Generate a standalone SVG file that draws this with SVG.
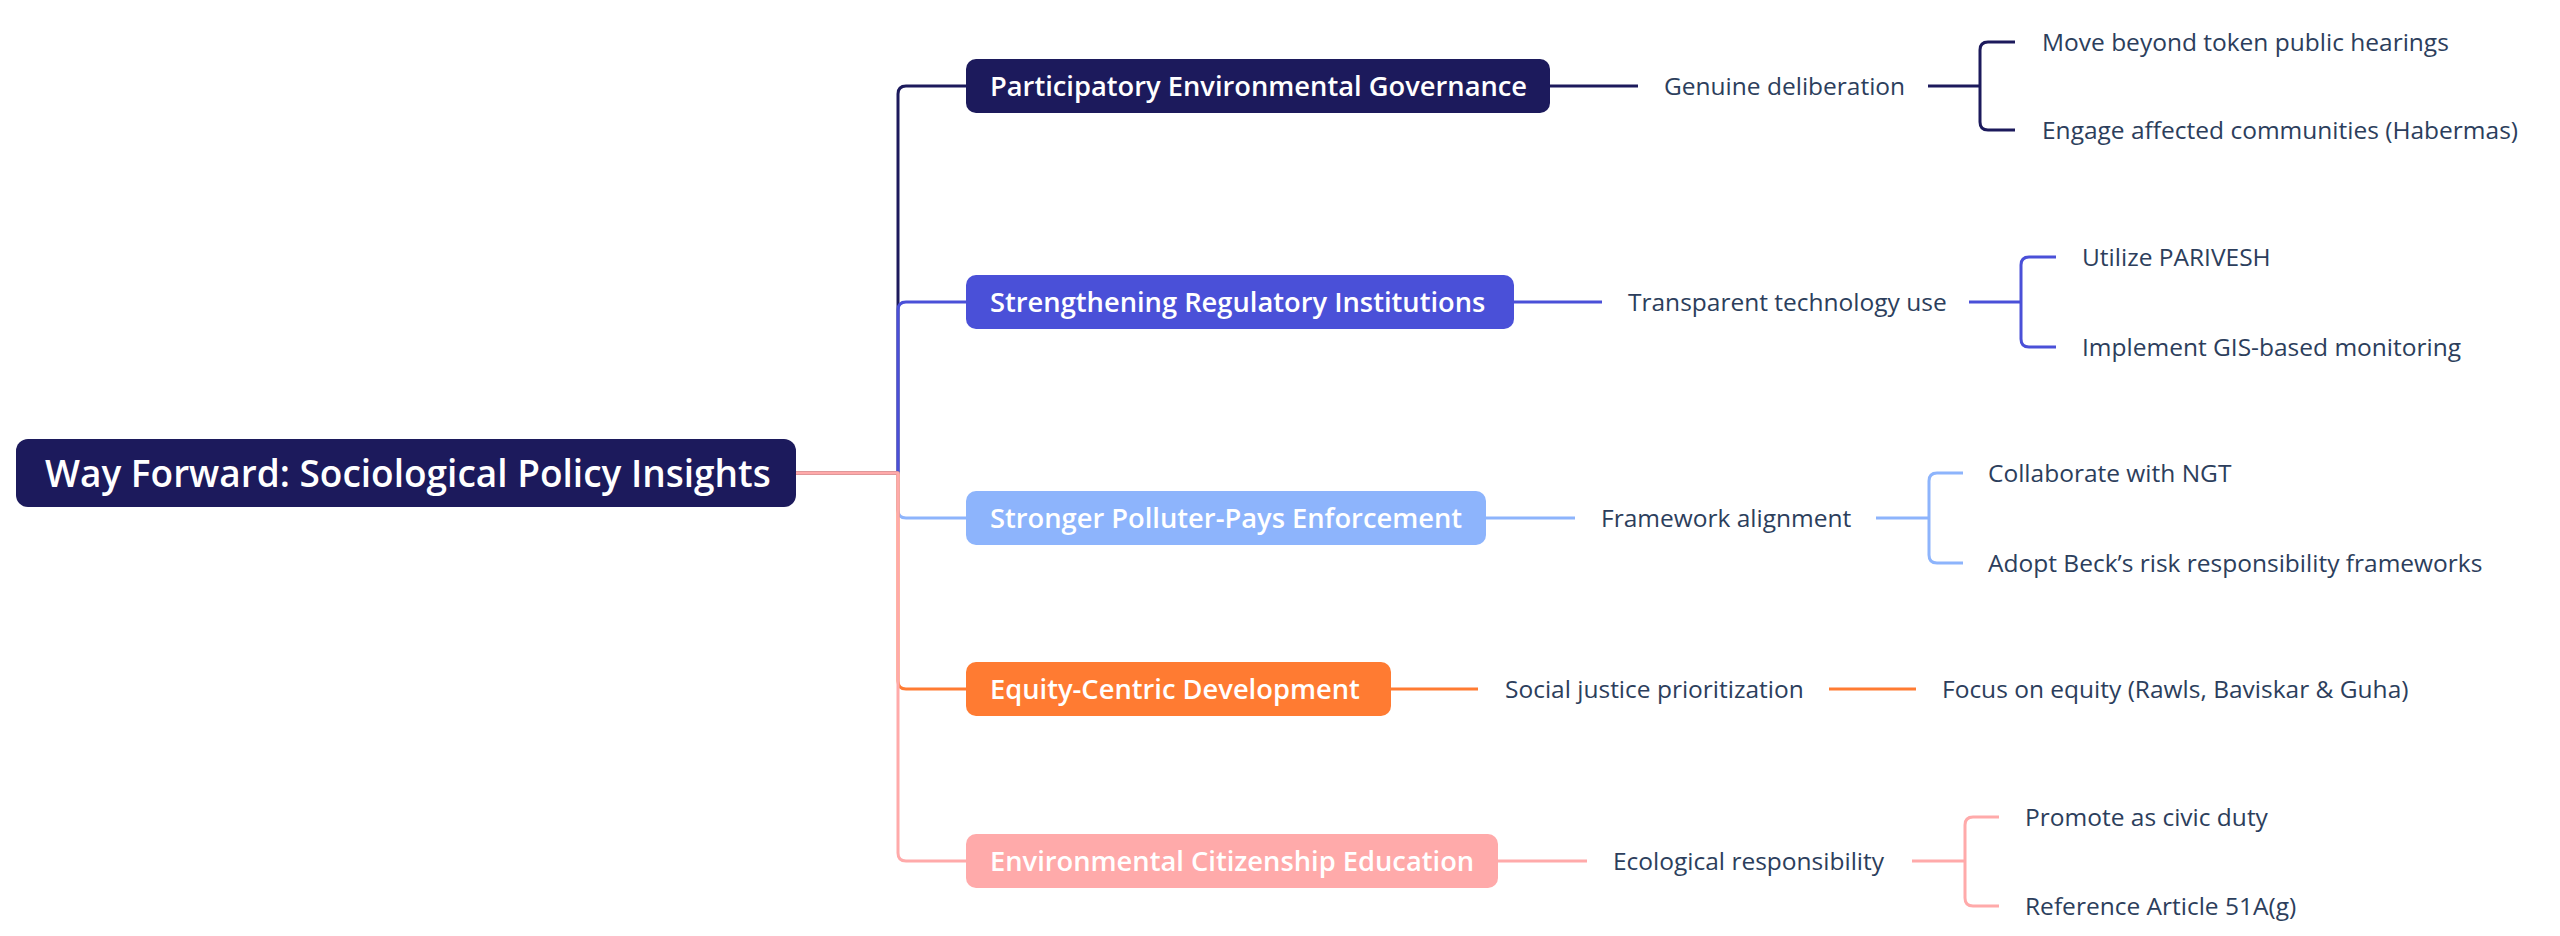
<svg xmlns="http://www.w3.org/2000/svg" width="2560" height="936" viewBox="0 0 2560 936">
<style>
.conn{fill:none;stroke-width:3;stroke-linecap:butt;stroke-linejoin:round}
.c1{stroke:#1c1a5c}.c2{stroke:#4a50d8}.c3{stroke:#8db4fc}.c4{stroke:#ff7b32}.c5{stroke:#ffaaaa}
.nt{font-family:"Open Sans","Noto Sans","Liberation Sans",sans-serif;font-weight:600;font-size:27.3px;fill:#ffffff}
.rt{font-family:"Open Sans","Noto Sans","Liberation Sans",sans-serif;font-weight:600;font-size:37px;fill:#ffffff}
.lt{font-family:"Open Sans","Noto Sans","Liberation Sans",sans-serif;font-weight:400;font-size:24.5px;fill:#2c3e5c}
</style>
<rect x="0" y="0" width="2560" height="936" fill="#ffffff"/>
<g id="connectors">
<path class="conn c1" d="M796 473H898V94Q898 86 906 86H966"/>
<path class="conn c2" d="M796 473H898V310Q898 302 906 302H966"/>
<path class="conn c3" d="M796 473H898V510Q898 518 906 518H966"/>
<path class="conn c4" d="M796 473H898V681Q898 689 906 689H966"/>
<path class="conn c5" d="M796 473H898V853Q898 861 906 861H966"/>
<path class="conn c1" d="M1550 86H1638"/>
<path class="conn c2" d="M1514 302H1602"/>
<path class="conn c3" d="M1486 518H1575"/>
<path class="conn c4" d="M1391 689H1478"/>
<path class="conn c5" d="M1498 861H1587"/>
<path class="conn c1" d="M1928 86H1980V50Q1980 42 1988 42H2015M1980 86V122Q1980 130 1988 130H2015"/>
<path class="conn c2" d="M1969 302H2021V265Q2021 257 2029 257H2056M2021 302V339Q2021 347 2029 347H2056"/>
<path class="conn c3" d="M1876 518H1929V481Q1929 473 1937 473H1963M1929 518V555Q1929 563 1937 563H1963"/>
<path class="conn c4" d="M1829 689H1916"/>
<path class="conn c5" d="M1912 861H1965V825Q1965 817 1973 817H1999M1965 861V898Q1965 906 1973 906H1999"/>
</g>
<g id="root">
<rect x="16" y="439" width="780" height="68" rx="12" fill="#1c1a5c"/>
<text class="rt" x="45" y="487">Way Forward: Sociological Policy Insights</text>
</g>
<g id="n1">
<rect x="966" y="59" width="584" height="54" rx="10" fill="#1c1a5c"/>
<text class="nt" x="990" y="96">Participatory Environmental Governance</text>
</g>
<g id="n2">
<rect x="966" y="275" width="548" height="54" rx="10" fill="#4a50d8"/>
<text class="nt" x="990" y="312">Strengthening Regulatory Institutions</text>
</g>
<g id="n3">
<rect x="966" y="491" width="520" height="54" rx="10" fill="#8db4fc"/>
<text class="nt" x="990" y="528">Stronger Polluter-Pays Enforcement</text>
</g>
<g id="n4">
<rect x="966" y="662" width="425" height="54" rx="10" fill="#ff7b32"/>
<text class="nt" x="990" y="699">Equity-Centric Development</text>
</g>
<g id="n5">
<rect x="966" y="834" width="532" height="54" rx="10" fill="#ffaaaa"/>
<text class="nt" x="990" y="871">Environmental Citizenship Education</text>
</g>
<g id="n1a"><text class="lt" x="1664" y="95">Genuine deliberation</text></g>
<g id="n1a1"><text class="lt" x="2042" y="51">Move beyond token public hearings</text></g>
<g id="n1a2"><text class="lt" x="2042" y="139">Engage affected communities (Habermas)</text></g>
<g id="n2a"><text class="lt" x="1628" y="311">Transparent technology use</text></g>
<g id="n2a1"><text class="lt" x="2082" y="266">Utilize PARIVESH</text></g>
<g id="n2a2"><text class="lt" x="2082" y="356">Implement GIS-based monitoring</text></g>
<g id="n3a"><text class="lt" x="1601" y="527">Framework alignment</text></g>
<g id="n3a1"><text class="lt" x="1988" y="482">Collaborate with NGT</text></g>
<g id="n3a2"><text class="lt" x="1988" y="572">Adopt Beck’s risk responsibility frameworks</text></g>
<g id="n4a"><text class="lt" x="1505" y="698">Social justice prioritization</text></g>
<g id="n4a1"><text class="lt" x="1942" y="698">Focus on equity (Rawls, Baviskar &amp; Guha)</text></g>
<g id="n5a"><text class="lt" x="1613" y="870">Ecological responsibility</text></g>
<g id="n5a1"><text class="lt" x="2025" y="826">Promote as civic duty</text></g>
<g id="n5a2"><text class="lt" x="2025" y="915">Reference Article 51A(g)</text></g>
</svg>
